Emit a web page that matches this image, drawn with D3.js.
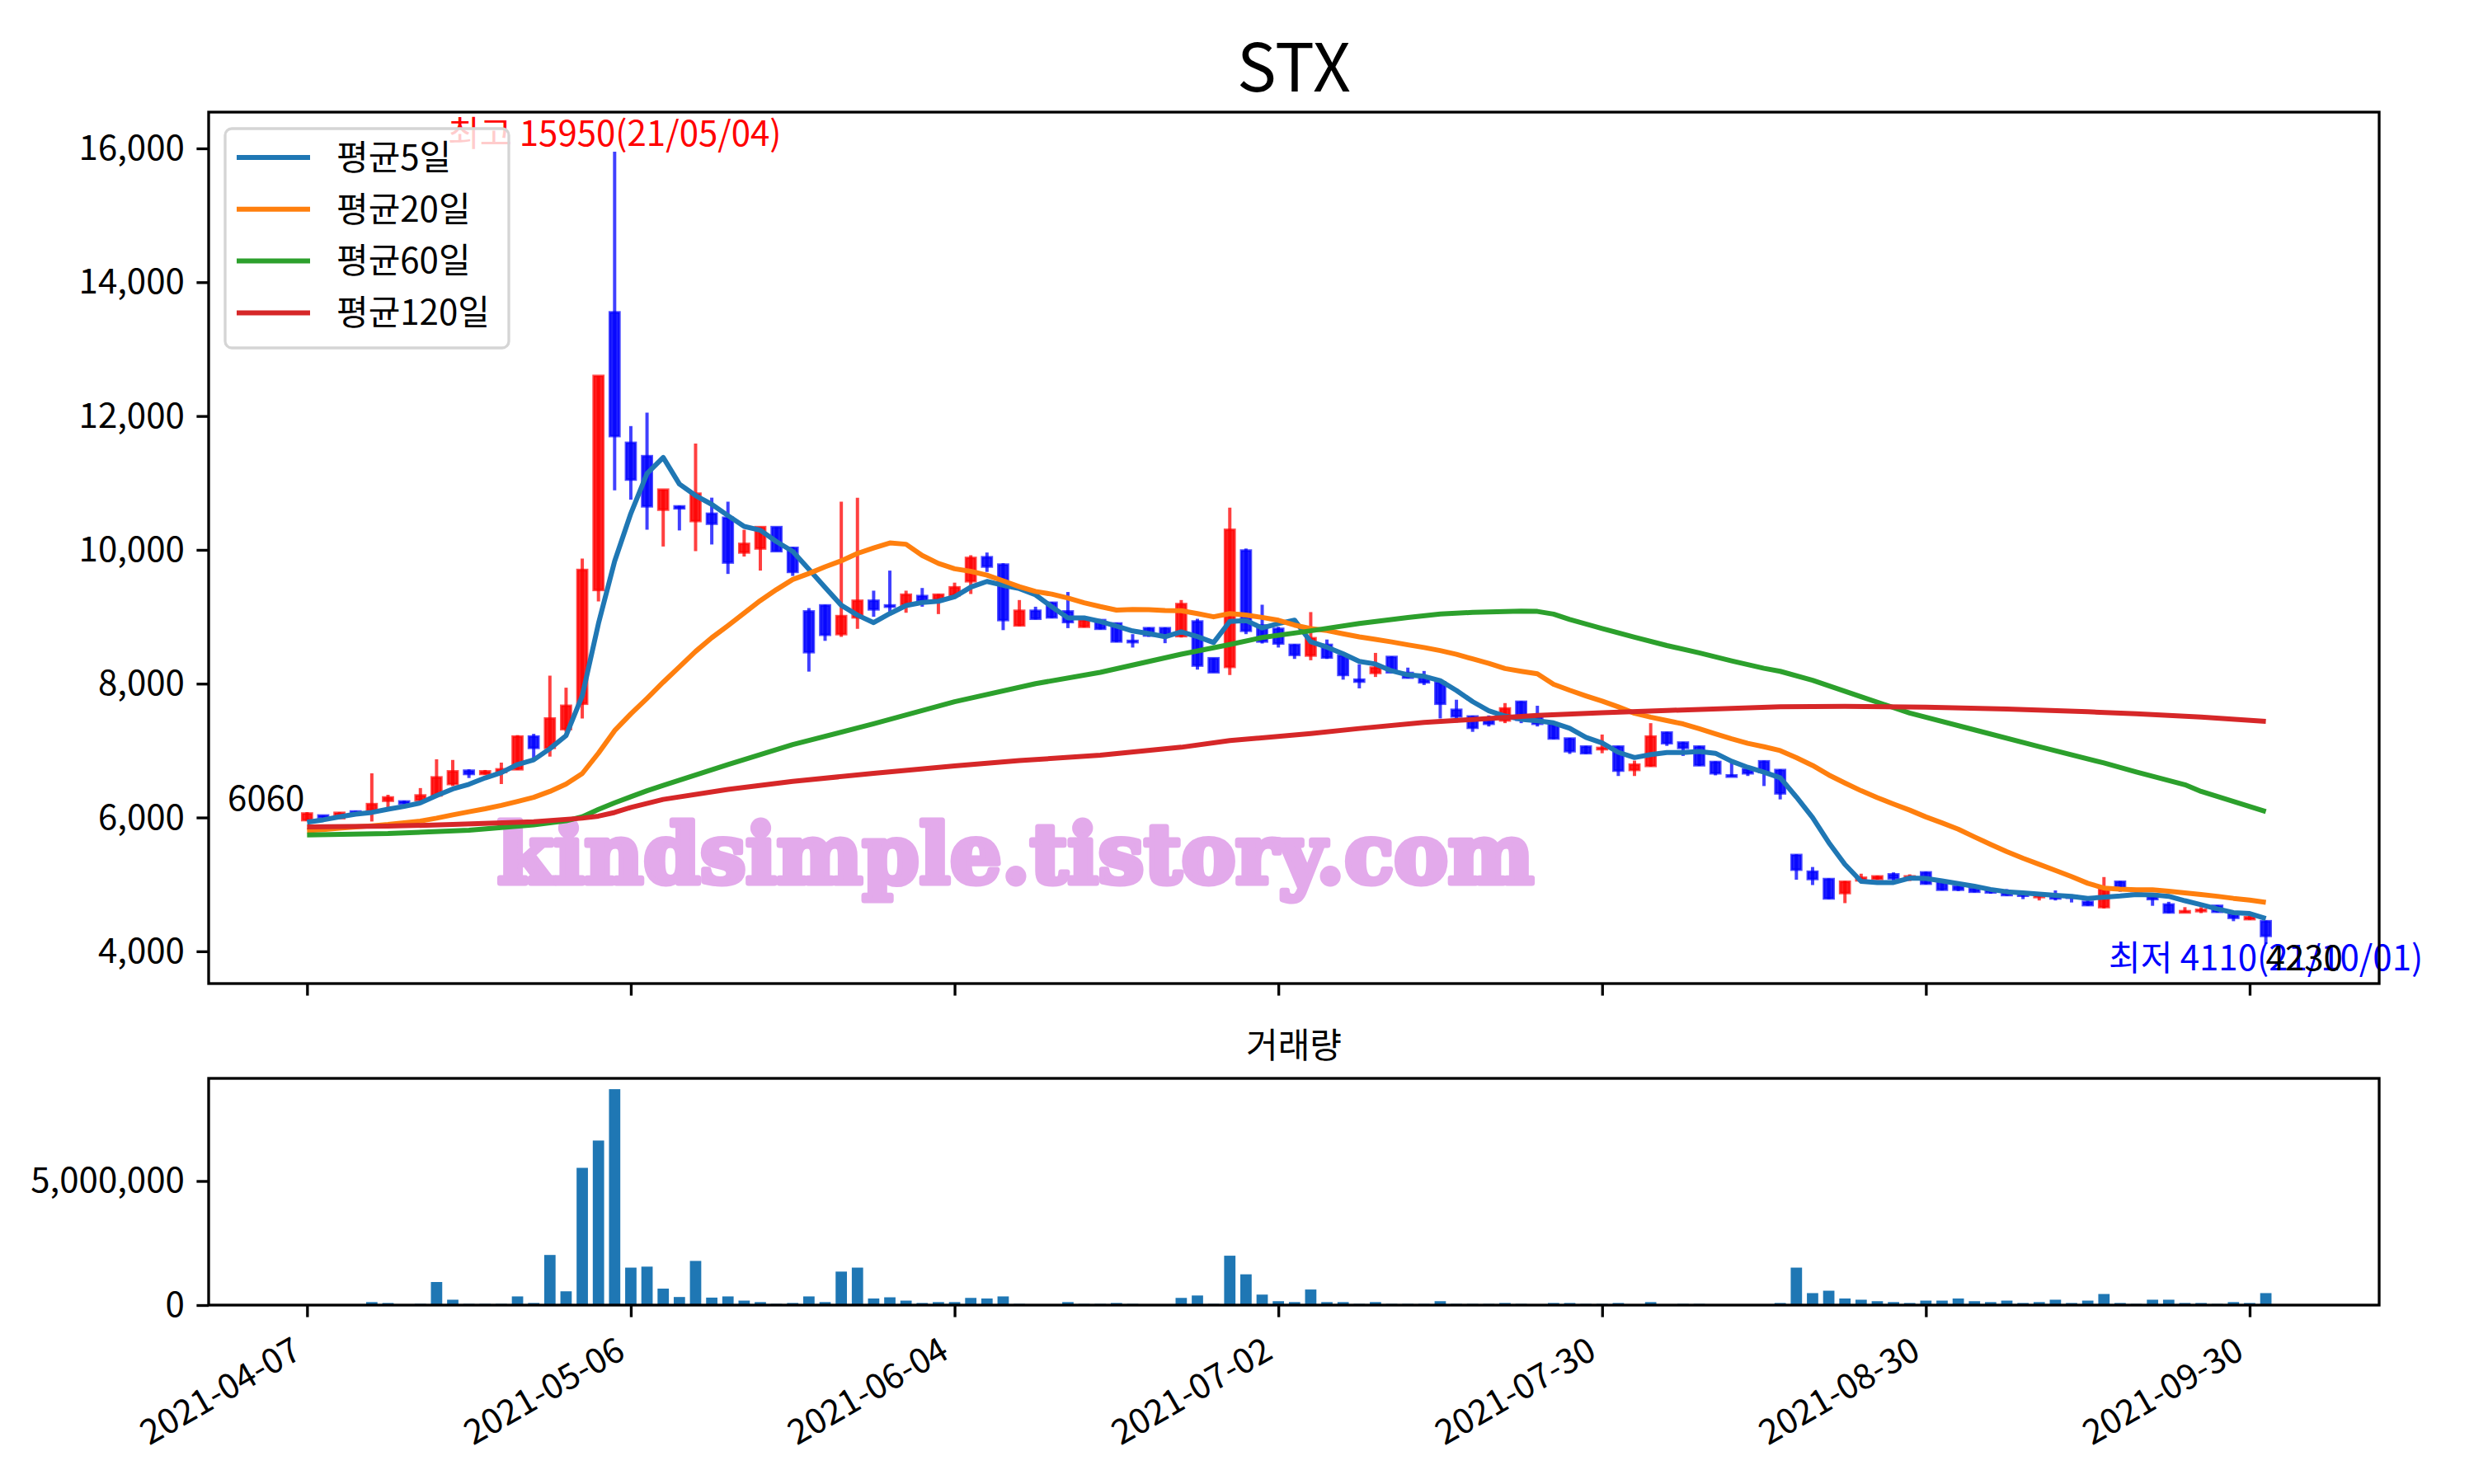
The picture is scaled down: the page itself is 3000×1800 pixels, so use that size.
<!DOCTYPE html>
<html>
<head>
<meta charset="utf-8">
<script src="https://d3js.org/d3.v7.min.js"></script>
<style>
body { margin: 0; background: #fff; }
svg text { font-family: "Noto Sans CJK KR", "Noto Sans", sans-serif; }
</style>
</head>
<body>
<svg width="3000" height="1800"></svg>
<script>
// daily candles, 2021-04-07 .. 2021-10-01 (trading day index)
var opens = [5960,6030,5990,6090,6110,6250,6240,6260,6330,6500,6700,6650,6680,6720,7210,7040,7320,7700,9400,13550,
  11600,11400,10600,10650,10430,10540,10480,9960,10020,10340,10030,9080,9170,8740,8990,9240,9170,9180,9310,9260,
  9320,9530,9890,9780,8870,9090,9210,9080,8850,8950,8900,8640,8830,8830,8710,8930,8380,8250,9990,8870,
  8820,8580,8420,8580,8420,8060,8160,8400,8160,8100,8020,7610,7510,7460,7450,7730,7500,7390,7180,7060,
  7020,7060,6710,6770,7270,7120,7060,6830,6630,6720,6840,6710,5440,5190,5080,4870,5060,5080,5150,5090,
  5180,5050,4970,4940,4920,4890,4870,4810,4830,4830,4740,4660,5040,4920,4810,4700,4580,4600,4680,4560,
  4480,4450];
var highs = [6080,6030,6080,6100,6660,6340,6250,6440,6870,6860,6720,6710,6820,7230,7250,8120,7940,9870,12600,15950,
  11850,12050,10900,10660,11590,10780,10720,10300,10340,10340,10040,9130,9180,10720,10780,9390,9690,9390,9430,9340,
  9510,9920,9960,9800,9250,9150,9220,9370,8960,8960,8910,8740,8840,8840,9250,8970,8380,10630,10020,9180,
  8850,8590,9070,8660,8430,8290,8460,8410,8240,8190,8030,7760,7520,7525,7710,7740,7670,7400,7190,7070,
  7240,7070,6850,7410,7280,7130,7070,6840,6830,6730,6850,6720,5450,5260,5090,5050,5160,5130,5180,5150,
  5190,5060,5000,4960,4940,4930,4890,4860,4910,4850,4760,5110,5050,4940,4870,4740,4660,4660,4690,4570,
  4530,4460];
var lows = [5950,5960,5980,6040,5940,6150,6200,6220,6300,6470,6590,6640,6500,6710,6890,6910,7280,7480,9230,10890,
  10750,10300,10050,10290,9980,10080,9640,9900,9690,9980,9610,8180,8640,8700,8820,9000,9070,9060,9150,9040,
  9300,9340,9670,8800,8860,8960,8980,8830,8840,8810,8620,8540,8700,8605,8690,8210,8170,8130,8740,8600,
  8540,8370,8350,8370,8060,7930,8100,8160,8080,7980,7480,7420,7280,7360,7410,7410,7360,7170,6950,6950,
  6960,6620,6620,6760,7070,6920,6770,6630,6610,6620,6470,6270,5070,4990,4780,4720,5050,5070,5050,5050,
  5000,4910,4900,4880,4860,4830,4780,4760,4760,4730,4680,4640,4890,4880,4680,4570,4580,4570,4580,4450,
  4470,4110];
var closes = [6060,6000,6070,6050,6200,6300,6210,6330,6600,6690,6650,6690,6720,7210,7040,7480,7670,9700,12600,11700,
  11050,10650,10900,10620,10840,10390,9810,10090,10340,9980,9670,8470,8730,9010,9240,9110,9150,9330,9240,9330,
  9440,9880,9750,8950,9090,8970,8990,8920,8950,8820,8630,8620,8720,8720,9190,8270,8170,10300,8790,8630,
  8600,8430,8680,8390,8130,8030,8240,8170,8090,8020,7700,7510,7340,7400,7630,7460,7400,7180,6990,6960,
  7040,6700,6790,7210,7110,7040,6780,6660,6610,6660,6680,6360,5220,5080,4790,5040,5100,5120,5090,5120,
  5010,4920,4920,4890,4880,4840,4830,4840,4790,4800,4690,4930,4920,4900,4780,4580,4600,4620,4590,4500,
  4510,4230];
var volumes = [10000,10000,15000,20000,121000,85000,15000,50000,930000,217000,48000,48000,48000,350000,85000,2020000,556000,5530000,6630000,8700000,
  1510000,1550000,664000,326000,1780000,302000,350000,181000,121000,48000,85000,350000,121000,1350000,1510000,266000,314000,181000,85000,121000,
  121000,290000,266000,350000,48000,20000,20000,121000,48000,48000,85000,48000,20000,20000,290000,387000,48000,1990000,1240000,423000,
  157000,121000,628000,121000,121000,48000,121000,48000,48000,48000,157000,48000,48000,48000,85000,48000,20000,85000,85000,48000,
  48000,85000,20000,121000,20000,48000,48000,20000,20000,20000,20000,85000,1510000,483000,580000,266000,217000,157000,121000,85000,
  181000,181000,266000,157000,121000,181000,85000,121000,217000,85000,181000,447000,85000,48000,217000,217000,85000,85000,48000,121000,
  85000,483000];

var ma5Head = [5930,5965,6010,6050];
var ma20Head = [5805,5820,5840,5858,5876,5895,5920,5947,5990,6039,6085,6130,6181,6240,6302,6390,6500,6657,6962];
var ma60Idx = [0,5,10,14,16,17,18,19,20,21,22,26,30,35,40,45,49,54,57,59,62,65,68,70,72,75,76,77,78,80,82,84,86,88,90,91,93,96,99,103,107,111,113,116,117,121];
var ma60Val = [5740,5760,5810,5890,5950,6010,6120,6220,6310,6400,6480,6790,7090,7400,7730,8000,8170,8440,8585,8690,8790,8900,8990,9040,9065,9085,9080,9040,8960,8825,8695,8570,8460,8340,8230,8185,8050,7805,7560,7310,7060,6815,6680,6490,6390,6090];
var ma120Idx = [0,5,9,14,17,18,19,20,22,26,30,35,40,44,49,54,57,62,65,69,72,76,80,84,88,91,95,100,105,110,113,117,121];
var ma120Val = [5860,5870,5895,5935,5990,6020,6075,6150,6270,6420,6540,6660,6770,6850,6930,7050,7150,7255,7330,7420,7465,7525,7565,7600,7630,7655,7660,7650,7620,7580,7550,7500,7435];

var tickIdx = [0,20,40,60,80,100,120];
var tickLabels = ["2021-04-07","2021-05-06","2021-06-04","2021-07-02","2021-07-30","2021-08-30","2021-09-30"];
var priceTicks = [4000,6000,8000,10000,12000,14000,16000];
var volTicks = [0,5000000];
var maNames = ["평균5일","평균20일","평균60일","평균120일"];
var maColors = ["#1f77b4","#ff7f0e","#2ca02c","#d62728"];

var svg = d3.select("svg");
var n = closes.length;
var idx = d3.range(n);

var x = d3.scaleLinear().domain([-6.08, 128]).range([253, 2885]);
var lo = d3.min(lows), hi = d3.max(highs), pad = (hi - lo) * 0.05;
var y = d3.scaleLinear().domain([lo - pad, hi + pad]).range([1193, 136]);
var yv = d3.scaleLinear().domain([0, d3.max(volumes) * 1.05]).range([1583, 1308]);

function movingAvg(win, head) {
  return idx.map(function(i) {
    if (i < win - 1) return head[i];
    return d3.mean(closes.slice(i - win + 1, i + 1));
  });
}
var ma5 = movingAvg(5, ma5Head);
var ma20 = movingAvg(20, ma20Head);
var maSeries = [
  idx.map(function(i) { return [i, ma5[i]]; }),
  idx.map(function(i) { return [i, ma20[i]]; }),
  ma60Idx.map(function(d, k) { return [d, ma60Val[k]]; }),
  ma120Idx.map(function(d, k) { return [d, ma120Val[k]]; })
];

function candleColor(i) { return closes[i] >= opens[i] ? "#ff0000" : "#0000ff"; }

// watermark
svg.append("text")
    .attr("x", 603).attr("y", 1071)
    .attr("textLength", 1257).attr("lengthAdjust", "spacingAndGlyphs")
    .style("font-family", "'DejaVu Serif', serif")
    .style("font-weight", "bold")
    .style("font-size", "100px")
    .attr("fill", "#e3aaeb")
    .attr("stroke", "#e3aaeb")
    .attr("stroke-width", 7)
    .attr("stroke-linejoin", "round")
    .text("kindsimple.tistory.com");

// candles
var candle = svg.append("g").attr("class", "candles")
  .selectAll("g")
  .data(idx)
  .enter().append("g");

candle.append("line")
    .attr("x1", function(i) { return x(i); })
    .attr("x2", function(i) { return x(i); })
    .attr("y1", function(i) { return y(highs[i]); })
    .attr("y2", function(i) { return y(lows[i]); })
    .attr("stroke", candleColor)
    .attr("stroke-opacity", 0.75)
    .attr("stroke-width", 4);

candle.append("rect")
    .attr("x", function(i) { return x(i - 0.3); })
    .attr("width", x(0.6) - x(0))
    .attr("y", function(i) { return y(Math.max(opens[i], closes[i])); })
    .attr("height", function(i) { return Math.max(1, Math.abs(y(opens[i]) - y(closes[i]))); })
    .attr("fill", candleColor)
    .attr("fill-opacity", 0.88)
    .attr("stroke", candleColor)
    .attr("stroke-opacity", 0.7)
    .attr("stroke-width", 3);

// moving average lines
var line = d3.line()
    .x(function(d) { return x(d[0]); })
    .y(function(d) { return y(d[1]); });

svg.append("g").attr("class", "ma")
  .selectAll("path")
  .data(maSeries)
  .enter().append("path")
    .attr("d", line)
    .attr("fill", "none")
    .attr("stroke", function(d, k) { return maColors[k]; })
    .attr("stroke-width", 6)
    .attr("stroke-linejoin", "round");

// annotations
var iMax = highs.indexOf(hi), iMin = lows.indexOf(lo);
svg.append("text")
    .attr("x", x(iMax)).attr("y", y(hi) - 7)
    .attr("text-anchor", "middle")
    .style("font-size", "42px")
    .attr("fill", "#ff0000")
    .text("최고 " + hi + "(21/05/04)");

svg.append("text")
    .attr("x", x(iMin)).attr("y", y(lo) + 32)
    .attr("text-anchor", "middle")
    .style("font-size", "42px")
    .attr("fill", "#0000ff")
    .text("최저 " + lo + "(21/10/01)");

svg.append("text")
    .attr("x", x(0) - 3).attr("y", y(closes[0]) - 4)
    .attr("text-anchor", "end")
    .style("font-size", "42px")
    .attr("fill", "#000")
    .text(closes[0]);

svg.append("text")
    .attr("x", x(n - 1)).attr("y", y(lo) + 32)
    .attr("text-anchor", "start")
    .style("font-size", "42px")
    .attr("fill", "#000")
    .text(closes[n - 1]);

// legend
var legend = svg.append("g").attr("class", "legend");
legend.append("rect")
    .attr("x", 273).attr("y", 156)
    .attr("width", 344).attr("height", 266)
    .attr("rx", 8)
    .attr("fill", "#fff").attr("fill-opacity", 0.8)
    .attr("stroke", "#d5d5d5").attr("stroke-width", 3.3);
var item = legend.selectAll("g.item")
  .data(maNames)
  .enter().append("g")
    .attr("class", "item")
    .attr("transform", function(d, k) { return "translate(0," + (191 + k * 62.8) + ")"; });
item.append("line")
    .attr("x1", 287).attr("x2", 376)
    .attr("stroke", function(d, k) { return maColors[k]; })
    .attr("stroke-width", 6);
item.append("text")
    .attr("x", 408).attr("dy", "0.35em")
    .style("font-size", "42px")
    .text(function(d) { return d; });

// volume bars
svg.append("g").attr("class", "volume")
  .selectAll("rect")
  .data(idx)
  .enter().append("rect")
    .attr("x", function(i) { return x(i - 0.35); })
    .attr("width", x(0.7) - x(0))
    .attr("y", function(i) { return yv(volumes[i]); })
    .attr("height", function(i) { return yv(0) - yv(volumes[i]); })
    .attr("fill", "#1f77b4");

// axes
function styleAxis(g) {
  g.attr("font-size", 42).attr("font-family", "'Noto Sans CJK KR', sans-serif");
  g.select(".domain").remove();
  g.selectAll(".tick line").attr("stroke-width", 3.33);
}

svg.append("g")
    .attr("transform", "translate(253,0)")
    .call(d3.axisLeft(y).tickValues(priceTicks).tickFormat(d3.format(",")).tickSize(14.6).tickPadding(14.6))
    .call(styleAxis);

svg.append("g")
    .attr("transform", "translate(0,1193)")
    .call(d3.axisBottom(x).tickValues(tickIdx).tickFormat("").tickSize(14.6))
    .call(styleAxis);

svg.append("g")
    .attr("transform", "translate(253,0)")
    .call(d3.axisLeft(yv).tickValues(volTicks).tickFormat(d3.format(",")).tickSize(14.6).tickPadding(14.6))
    .call(styleAxis);

svg.append("g")
    .attr("transform", "translate(0,1583)")
    .call(d3.axisBottom(x).tickValues(tickIdx).tickFormat(function(d, k) { return tickLabels[k]; }).tickSize(14.6))
    .call(styleAxis)
  .selectAll("text")
    .attr("y", 0).attr("dy", 0)
    .attr("text-anchor", "end")
    .attr("transform", "translate(-5,63) rotate(-30)");

// frames
svg.append("rect")
    .attr("x", 253).attr("y", 136).attr("width", 2632).attr("height", 1057)
    .attr("fill", "none").attr("stroke", "#000").attr("stroke-width", 3.33);
svg.append("rect")
    .attr("x", 253).attr("y", 1308).attr("width", 2632).attr("height", 275)
    .attr("fill", "none").attr("stroke", "#000").attr("stroke-width", 3.33);

// titles
svg.append("text")
    .attr("x", 1569).attr("y", 111)
    .attr("text-anchor", "middle")
    .style("font-size", "80px")
    .text("STX");
svg.append("text")
    .attr("x", 1569).attr("y", 1283)
    .attr("text-anchor", "middle")
    .style("font-size", "42px")
    .text("거래량");
</script>
</body>
</html>
